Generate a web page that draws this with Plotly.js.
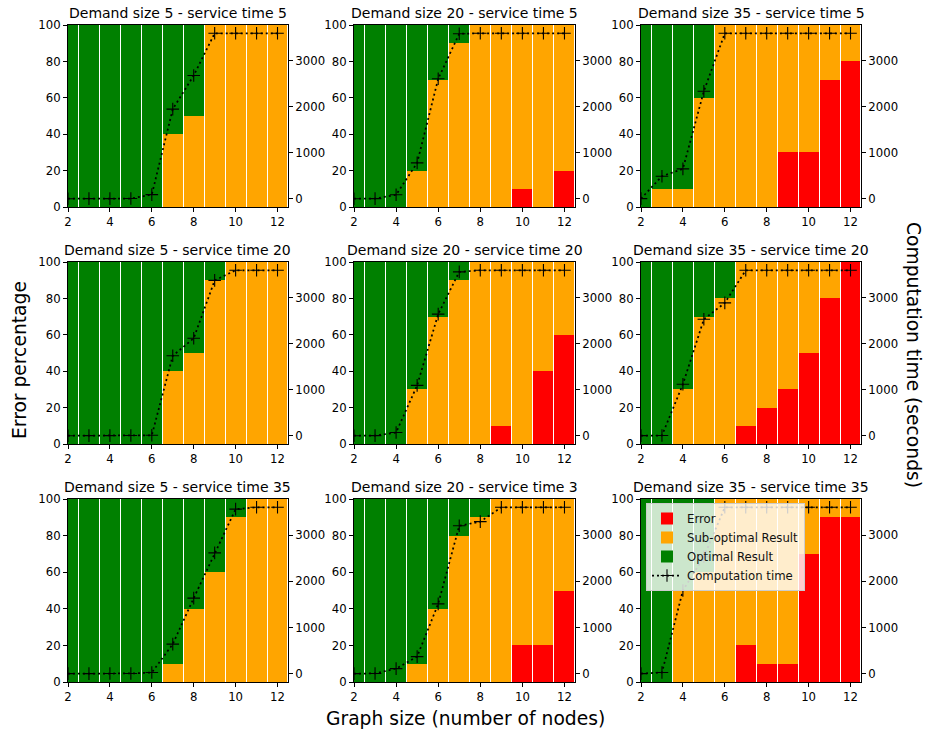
<!DOCTYPE html>
<html>
<head>
<meta charset="utf-8">
<script src="https://cdn.plot.ly/plotly-3.0.1.min.js"></script>
<style>html,body{margin:0;padding:0;background:#fff;}#chart{width:927px;height:734px;}</style>
</head>
<body>
<div id="chart"></div>
<script>
// ---- data ----
const nodes = [2, 3, 4, 5, 6, 7, 8, 9, 10, 11, 12];

// Demand size 5 - service time 5
const err_d5_s5  = [0, 0, 0, 0, 0, 0, 0, 0, 0, 0, 0];
const sub_d5_s5  = [0, 0, 0, 0, 0, 40, 50, 100, 100, 100, 100];
const opt_d5_s5  = [100, 100, 100, 100, 100, 60, 50, 0, 0, 0, 0];
const time_d5_s5 = [1, 2, 3, 5, 90, 1950, 2680, 3600, 3600, 3600, 3600];

// Demand size 20 - service time 5
const err_d20_s5  = [0, 0, 0, 0, 0, 0, 0, 0, 10, 0, 20];
const sub_d20_s5  = [0, 0, 0, 20, 70, 90, 100, 100, 90, 100, 80];
const opt_d20_s5  = [100, 100, 100, 80, 30, 10, 0, 0, 0, 0, 0];
const time_d20_s5 = [1, 3, 85, 780, 2610, 3590, 3600, 3600, 3600, 3600, 3600];

// Demand size 35 - service time 5
const err_d35_s5  = [0, 0, 0, 0, 0, 0, 0, 30, 30, 70, 80];
const sub_d35_s5  = [0, 10, 10, 60, 100, 100, 100, 70, 70, 30, 20];
const opt_d35_s5  = [100, 90, 90, 40, 0, 0, 0, 0, 0, 0, 0];
const time_d35_s5 = [2, 490, 650, 2340, 3600, 3600, 3600, 3600, 3600, 3600, 3600];

// Demand size 5 - service time 20
const err_d5_s20  = [0, 0, 0, 0, 0, 0, 0, 0, 0, 0, 0];
const sub_d5_s20  = [0, 0, 0, 0, 0, 40, 50, 90, 100, 100, 100];
const opt_d5_s20  = [100, 100, 100, 100, 100, 60, 50, 10, 0, 0, 0];
const time_d5_s20 = [1, 2, 3, 5, 10, 1740, 2120, 3380, 3600, 3600, 3600];

// Demand size 20 - service time 20
const err_d20_s20  = [0, 0, 0, 0, 0, 0, 0, 10, 0, 40, 60];
const sub_d20_s20  = [0, 0, 0, 30, 70, 90, 100, 90, 100, 60, 40];
const opt_d20_s20  = [100, 100, 100, 70, 30, 10, 0, 0, 0, 0, 0];
const time_d20_s20 = [1, 3, 70, 1095, 2645, 3565, 3600, 3600, 3600, 3600, 3600];

// Demand size 35 - service time 20
const err_d35_s20  = [0, 0, 0, 0, 0, 10, 20, 30, 50, 80, 100];
const sub_d35_s20  = [0, 0, 30, 70, 80, 90, 80, 70, 50, 20, 0];
const opt_d35_s20  = [100, 100, 70, 30, 20, 0, 0, 0, 0, 0, 0];
const time_d35_s20 = [2, 5, 1120, 2535, 2890, 3600, 3600, 3600, 3600, 3600, 3600];

// Demand size 5 - service time 35
const err_d5_s35  = [0, 0, 0, 0, 0, 0, 0, 0, 0, 0, 0];
const sub_d5_s35  = [0, 0, 0, 0, 0, 10, 40, 60, 90, 100, 100];
const opt_d5_s35  = [100, 100, 100, 100, 100, 90, 60, 40, 10, 0, 0];
const time_d5_s35 = [1, 2, 3, 5, 25, 640, 1635, 2615, 3560, 3600, 3600];

// Demand size 20 - service time 3
const err_d20_s3  = [0, 0, 0, 0, 0, 0, 0, 0, 20, 20, 50];
const sub_d20_s3  = [0, 0, 0, 10, 40, 80, 90, 100, 80, 80, 50];
const opt_d20_s3  = [100, 100, 100, 90, 60, 20, 10, 0, 0, 0, 0];
const time_d20_s3 = [2, 5, 110, 370, 1510, 3200, 3290, 3600, 3600, 3600, 3600];

// Demand size 35 - service time 35
const err_d35_s35  = [0, 0, 0, 0, 0, 20, 10, 10, 70, 90, 90];
const sub_d35_s35  = [0, 0, 50, 60, 100, 80, 90, 90, 30, 10, 10];
const opt_d35_s35  = [100, 100, 50, 40, 0, 0, 0, 0, 0, 0, 0];
const time_d35_s35 = [2, 25, 1800, 2530, 3600, 3600, 3600, 3600, 3600, 3600, 3600];

const panelTitles = [
  "Demand size 5 - service time 5", "Demand size 20 - service time 5", "Demand size 35 - service time 5",
  "Demand size 5 - service time 20", "Demand size 20 - service time 20", "Demand size 35 - service time 20",
  "Demand size 5 - service time 35", "Demand size 20 - service time 3", "Demand size 35 - service time 35"
];
const seriesNames = ["Error", "Sub-optimal Result", "Optimal Result", "Computation time"];
const xTicks = [2, 4, 6, 8, 10, 12];
const yTicks = [0, 20, 40, 60, 80, 100];
const tTicks = [0, 1000, 2000, 3000];

const panels = [
  [err_d5_s5, sub_d5_s5, opt_d5_s5, time_d5_s5],
  [err_d20_s5, sub_d20_s5, opt_d20_s5, time_d20_s5],
  [err_d35_s5, sub_d35_s5, opt_d35_s5, time_d35_s5],
  [err_d5_s20, sub_d5_s20, opt_d5_s20, time_d5_s20],
  [err_d20_s20, sub_d20_s20, opt_d20_s20, time_d20_s20],
  [err_d35_s20, sub_d35_s20, opt_d35_s20, time_d35_s20],
  [err_d5_s35, sub_d5_s35, opt_d5_s35, time_d5_s35],
  [err_d20_s3, sub_d20_s3, opt_d20_s3, time_d20_s3],
  [err_d35_s35, sub_d35_s35, opt_d35_s35, time_d35_s35]
];

// ---- layout geometry (pixels) ----
const W = 927, H = 734;
const colPx = [[68, 288], [354, 575], [641, 861]];
const rowPx = [[25, 207], [262, 444], [499, 682]];
const FONT = "DejaVu Sans, sans-serif";
const colors = ["#ff0000", "#ffa500", "#008000"];

const traces = [];
const layout = {
  width: W, height: H,
  margin: {l: 0, r: 0, t: 0, b: 0},
  paper_bgcolor: "#fff", plot_bgcolor: "#fff",
  barmode: "stack",
  showlegend: true,
  font: {family: FONT, size: 11.7, color: "#000"},
  legend: {
    x: 646 / W, y: 1 - 503 / H, xanchor: "left", yanchor: "top",
    bgcolor: "rgba(255,255,255,0.8)", bordercolor: "#cccccc", borderwidth: 1,
    font: {family: FONT, size: 11.7, color: "#111"},
    traceorder: "normal", tracegroupgap: 0
  },
  annotations: []
};

panels.forEach((p, i) => {
  const k = i + 1;
  const r = Math.floor(i / 3), c = i % 3;
  const xa = "x" + (k === 1 ? "" : k);
  const yl = "y" + (2 * k - 1 === 1 ? "" : (2 * k - 1));
  const yr = "y" + (2 * k);
  const xDom = [colPx[c][0] / W, colPx[c][1] / W];
  const yDom = [1 - rowPx[r][1] / H, 1 - rowPx[r][0] / H];
  const leg = (k === 9);

  for (let s = 0; s < 3; s++) {
    traces.push({
      type: "bar", x: nodes, y: p[s], name: seriesNames[s],
      width: 0.95, marker: {color: colors[s], line: {width: 0}},
      xaxis: xa, yaxis: yl, showlegend: leg, legendgroup: seriesNames[s]
    });
  }
  traces.push({
    type: "scatter", mode: "lines+markers", x: nodes, y: p[3], name: seriesNames[3],
    line: {color: "#000", width: 1.75, dash: "2px,3px"},
    marker: {symbol: "cross-thin", size: 9, color: "#000", line: {color: "#000", width: 1.1}},
    xaxis: xa, yaxis: yr, showlegend: leg, legendgroup: seriesNames[3], cliponaxis: true
  });

  const axBase = {
    showgrid: false, zeroline: false, showline: true, linecolor: "#000", linewidth: 1,
    ticks: "outside", ticklen: 4, tickwidth: 1, tickcolor: "#000",
    tickfont: {family: FONT, size: 11.7, color: "#000"}
  };
  layout["xaxis" + (k === 1 ? "" : k)] = Object.assign({}, axBase, {
    domain: xDom, anchor: yl, range: [2, 12.5], tickvals: xTicks, mirror: true
  });
  layout["yaxis" + (2 * k - 1 === 1 ? "" : (2 * k - 1))] = Object.assign({}, axBase, {
    domain: yDom, anchor: xa, range: [0, 100], tickvals: yTicks, mirror: true
  });
  layout["yaxis" + (2 * k)] = Object.assign({}, axBase, {
    overlaying: yl, anchor: xa, side: "right", range: [-180, 3780], tickvals: tTicks
  });

  layout.annotations.push({
    text: panelTitles[i], xref: "paper", yref: "paper",
    x: (xDom[0] + xDom[1]) / 2, y: yDom[1], xanchor: "center", yanchor: "bottom",
    yshift: 2, showarrow: false, font: {family: FONT, size: 14, color: "#000"}
  });
});

layout.annotations.push(
  {text: "Error percentage", xref: "paper", yref: "paper", x: 19 / W, y: 1 - 360 / H,
   xanchor: "center", yanchor: "middle", textangle: -90, showarrow: false,
   font: {family: FONT, size: 18.7, color: "#000"}},
  {text: "Computation time (seconds)", xref: "paper", yref: "paper", x: 914 / W, y: 1 - 355 / H,
   xanchor: "center", yanchor: "middle", textangle: 90, showarrow: false,
   font: {family: FONT, size: 18.7, color: "#000"}},
  {text: "Graph size (number of nodes)", xref: "paper", yref: "paper", x: 465 / W, y: 1 - 718 / H,
   xanchor: "center", yanchor: "middle", showarrow: false,
   font: {family: FONT, size: 18.7, color: "#000"}}
);

Plotly.newPlot("chart", traces, layout, {displayModeBar: false, staticPlot: true});
</script>
</body>
</html>
